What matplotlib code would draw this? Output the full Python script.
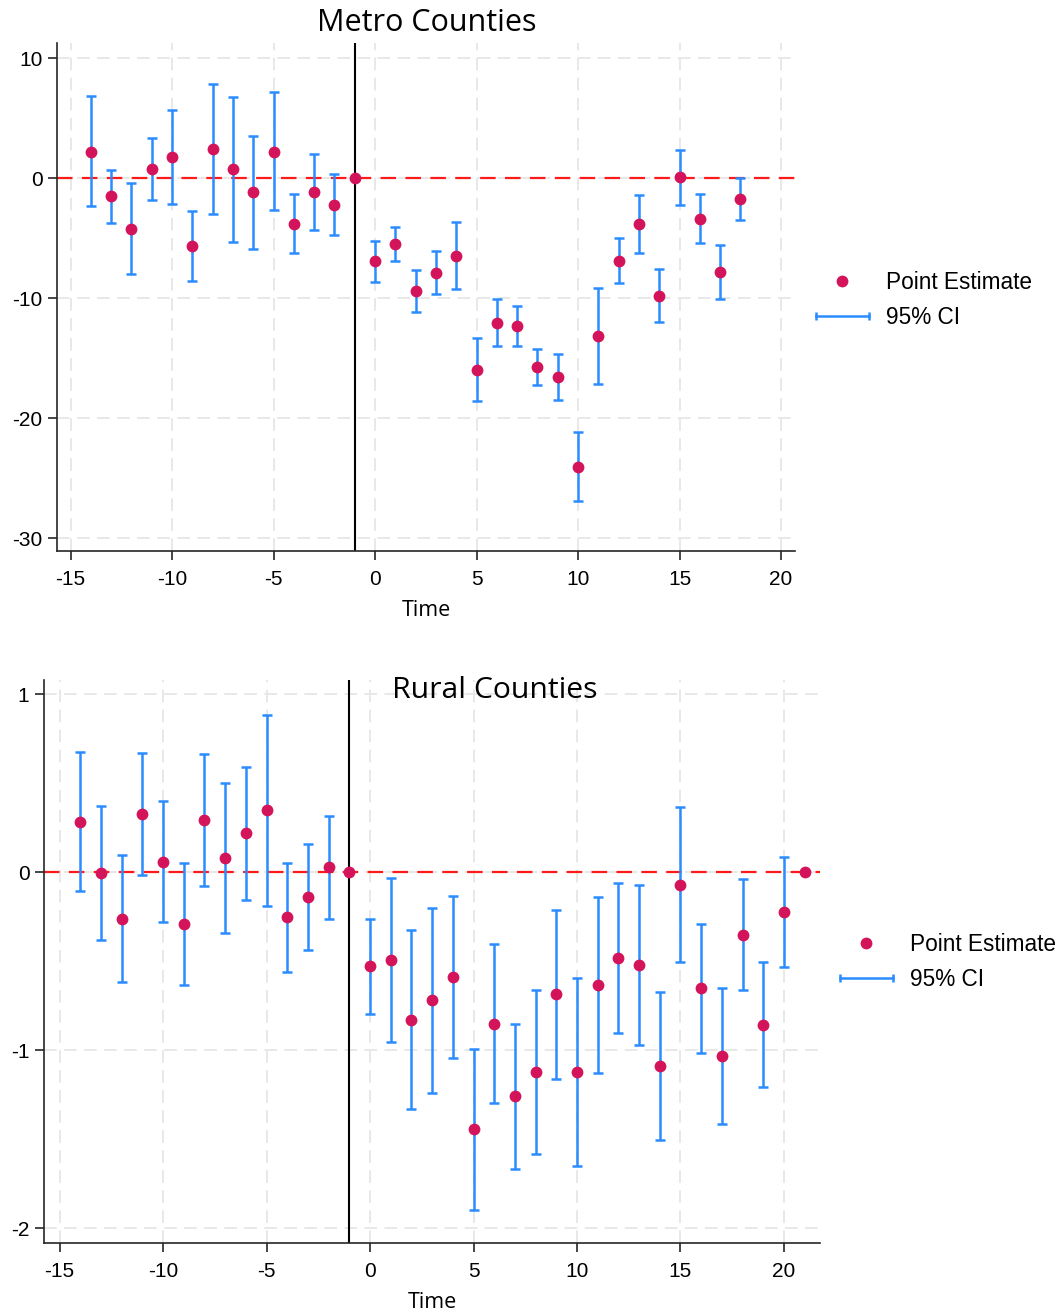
import matplotlib
matplotlib.use("Agg")
import matplotlib.pyplot as plt
from matplotlib.lines import Line2D
from matplotlib.legend_handler import HandlerLine2D

plt.rcParams['font.family'] = ['Liberation Sans', 'DejaVu Sans']
plt.rcParams['axes.unicode_minus'] = False

# ---- Metro Counties data ----
metro_time = [-14, -13, -12, -11, -10, -9, -8, -7, -6, -5, -4, -3, -2, -1,
              0, 1, 2, 3, 4, 5, 6, 7, 8, 9, 10, 11, 12, 13, 14, 15, 16, 17, 18]
metro_est = [2.19, -1.53, -4.22, 0.75, 1.75, -5.69, 2.39, 0.72, -1.19, 2.19, -3.81, -1.19, -2.25, 0.0,
             -6.94, -5.5, -9.42, -7.92, -6.5, -16.0, -12.06, -12.31, -15.75, -16.61, -24.06, -13.17,
             -6.89, -3.81, -9.81, 0.06, -3.39, -7.81, -1.78]
metro_hi = [6.83, 0.67, -0.44, 3.36, 5.67, -2.78, 7.86, 6.72, 3.53, 7.14, -1.36, 1.97, 0.31, 0.0,
            -5.22, -4.08, -7.67, -6.08, -3.69, -13.36, -10.11, -10.64, -14.25, -14.69, -21.19, -9.14,
            -5.0, -1.39, -7.58, 2.33, -1.31, -5.56, 0.0]
metro_lo = [-2.33, -3.72, -8.0, -1.83, -2.17, -8.56, -3.0, -5.31, -5.89, -2.69, -6.28, -4.31, -4.78, 0.0,
            -8.64, -6.89, -11.17, -9.69, -9.25, -18.61, -13.97, -14.0, -17.25, -18.47, -26.92, -17.14,
            -8.78, -6.22, -12.03, -2.22, -5.44, -10.08, -3.53]

# ---- Rural Counties data ----
rural_time = [-14, -13, -12, -11, -10, -9, -8, -7, -6, -5, -4, -3, -2, -1,
              0, 1, 2, 3, 4, 5, 6, 7, 8, 9, 10, 11, 12, 13, 14, 15, 16, 17, 18, 19, 20, 21]
rural_est = [0.281, -0.004, -0.262, 0.326, 0.056, -0.294, 0.292, 0.077, 0.217, 0.346, -0.255, -0.140, 0.028, 0.0,
             -0.530, -0.496, -0.830, -0.721, -0.592, -1.446, -0.854, -1.260, -1.125, -0.687, -1.124, -0.637,
             -0.483, -0.522, -1.090, -0.073, -0.654, -1.032, -0.352, -0.858, -0.227, 0.0]
rural_hi = [0.672, 0.371, 0.094, 0.668, 0.399, 0.051, 0.665, 0.498, 0.590, 0.884, 0.052, 0.157, 0.316, 0.0,
            -0.262, -0.036, -0.328, -0.202, -0.137, -0.993, -0.406, -0.856, -0.663, -0.213, -0.594, -0.142,
            -0.060, -0.073, -0.674, 0.367, -0.294, -0.650, -0.041, -0.506, 0.082, 0.0]
rural_lo = [-0.109, -0.380, -0.618, -0.015, -0.283, -0.637, -0.081, -0.343, -0.155, -0.191, -0.564, -0.438, -0.262, 0.0,
            -0.796, -0.957, -1.331, -1.240, -1.045, -1.899, -1.300, -1.667, -1.584, -1.161, -1.652, -1.131,
            -0.906, -0.972, -1.506, -0.508, -1.015, -1.414, -0.663, -1.210, -0.534, 0.0]

x_ticks = [-15, -10, -5, 0, 5, 10, 15, 20]
metro_yticks = [10, 0, -10, -20, -30]
rural_yticks = [1, 0, -1, -2]
event_line = -1

PT_COLOR = '#d4145a'
CI_COLOR = '#2b8cff'
GRID_COLOR = '#e8e8e8'
AX_COLOR = '#262626'

W, H = 1062, 1315
fig = plt.figure(figsize=(W / 100, H / 100), dpi=100)


def draw_panel(ax, t, est, lo, hi, yticks, xlim, ylim):
    ax.set_xlim(*xlim)
    ax.set_ylim(*ylim)
    ax.set_xticks(x_ticks)
    ax.set_yticks(yticks)
    ax.grid(True, color=GRID_COLOR, linestyle=(0, (6.5, 3.8)), linewidth=1.4, zorder=0)
    ax.set_axisbelow(True)
    for s in ['top', 'right']:
        ax.spines[s].set_visible(False)
    for s in ['left', 'bottom']:
        ax.spines[s].set_linewidth(1.2)
        ax.spines[s].set_color(AX_COLOR)
    ax.tick_params(axis='both', labelsize=15, length=6.5, width=1.2, direction='out',
                   color=AX_COLOR)
    ax.tick_params(axis='x', pad=7)
    ax.tick_params(axis='y', pad=4)
    ax.axhline(0, color='#ff1a1a', linestyle=(0, (7, 4.2)), linewidth=1.6, zorder=2)
    ax.axvline(event_line, color='black', linewidth=1.5, zorder=2)
    # error bars (skip zero-width reference points)
    ci_t = [ti for ti, l, h in zip(t, lo, hi) if h != l]
    ci_lo = [l for ti, l, h in zip(t, lo, hi) if h != l]
    ci_hi = [h for ti, l, h in zip(t, lo, hi) if h != l]
    ax.vlines(ci_t, ci_lo, ci_hi, color=CI_COLOR, linewidth=1.8, zorder=3)
    ax.plot(ci_t, ci_lo, linestyle='none', marker='_', markersize=6.5, markeredgewidth=1.8,
            color=CI_COLOR, zorder=3)
    ax.plot(ci_t, ci_hi, linestyle='none', marker='_', markersize=6.5, markeredgewidth=1.8,
            color=CI_COLOR, zorder=3)
    ax.plot(t, est, linestyle='none', marker='o', markersize=8.5, color=PT_COLOR,
            markeredgewidth=0, zorder=4)
    ax.set_xlabel('Time', fontsize=15.5, family=['Open Sans', 'DejaVu Sans'], labelpad=8)


def add_legend(anchor):
    h_pt = Line2D([], [], linestyle='none', marker='o', markersize=8.5, color=PT_COLOR, markeredgewidth=0)
    h_ci = Line2D([], [], color=CI_COLOR, linewidth=1.8, marker='|', markersize=6, markeredgewidth=1.8)
    leg = fig.legend([h_pt, h_ci], ['Point Estimate', '95% CI'], loc='upper left',
                     bbox_to_anchor=anchor, bbox_transform=fig.transFigure,
                     frameon=False, fontsize=16.3, handlelength=2.95, handletextpad=0.45,
                     labelspacing=0.52, borderaxespad=0, borderpad=0,
                     handler_map={h_pt: HandlerLine2D(numpoints=1), h_ci: HandlerLine2D(numpoints=2)})
    return leg


# top panel
ax1 = fig.add_axes([57 / W, 1 - 551 / H, 738 / W, 508 / H])
draw_panel(ax1, metro_time, metro_est, metro_lo, metro_hi, metro_yticks,
           (-15.67, 20.69), (-31.08, 11.25))
fig.text(427 / W, 1 - 23 / H, 'Metro Counties', ha='center', va='center', fontsize=22,
         family=['Open Sans', 'DejaVu Sans'])
add_legend((809 / W, 1 - 271 / H))

# bottom panel
ax2 = fig.add_axes([44 / W, 1 - 1243 / H, 776 / W, 563 / H])
draw_panel(ax2, rural_time, rural_est, rural_lo, rural_hi, rural_yticks,
           (-15.75, 21.74), (-2.084, 1.079))
fig.text(495 / W, 1 - 691 / H, 'Rural Counties', ha='center', va='center', fontsize=21.7,
         family=['Open Sans', 'DejaVu Sans'])
add_legend((833 / W, 1 - 933 / H))

fig.savefig('out.png', dpi=100, facecolor='white')
